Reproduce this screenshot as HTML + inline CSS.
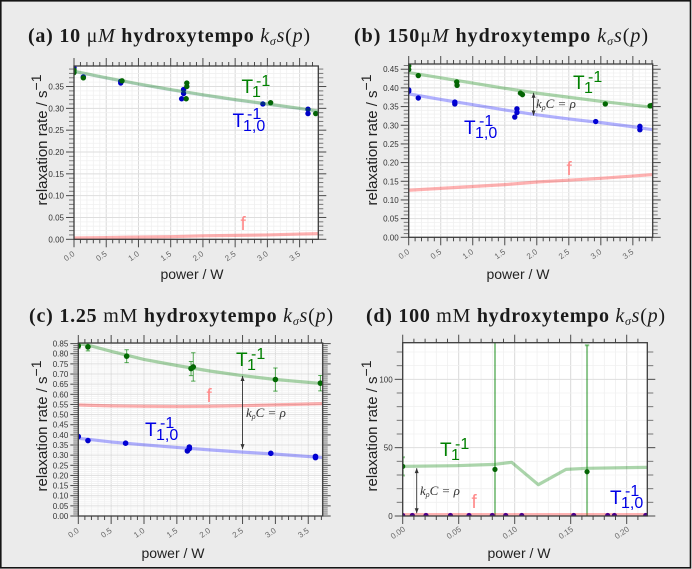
<!DOCTYPE html>
<html lang="en">
<head>
<meta charset="utf-8">
<title>Relaxation rate versus power</title>
<style>
html,body{margin:0;padding:0;background:#fff;width:692px;height:569px;overflow:hidden;}
#chart{display:block;position:absolute;left:0;top:0;overflow:hidden;}
text{font-family:"Liberation Sans",sans-serif;}
.title{font-family:"Liberation Serif",serif;font-size:20px;font-weight:bold;fill:#1a1a1a;}
.rm{font-weight:normal;}
.it{font-weight:normal;font-style:italic;}
.math{font-family:"Liberation Serif",serif;font-style:italic;font-size:13px;fill:#333;}
.axis-title{font-size:15px;fill:#222;}
.x-title{font-size:14px;}
.ytl{font-size:8px;fill:#333;text-anchor:end;}
.xtl{font-size:8px;fill:#666;text-anchor:middle;}
.ann{font-size:19px;}
.annsm{font-size:16px;}
</style>
</head>
<body>
<svg id="chart" xmlns="http://www.w3.org/2000/svg" width="692" height="569" viewBox="0 0 692 569">
  <rect x="0.8" y="0.8" width="689.7" height="567" fill="#ebebeb" stroke="#151515" stroke-width="1.6"/>
  <g id="plots"></g>

  <text class="title" x="28" y="42" textLength="282" xml:space="preserve">(a) 10<tspan class="rm"> μ</tspan><tspan class="it">M</tspan> hydroxytempo <tspan class="it">k</tspan><tspan class="it" font-size="12" dy="3">σ</tspan><tspan class="it" dy="-3">s</tspan><tspan class="rm">(</tspan><tspan class="it">p</tspan><tspan class="rm">)</tspan></text>
  <text class="title" x="354" y="42" textLength="294" xml:space="preserve">(b) 150<tspan class="rm">μ</tspan><tspan class="it">M</tspan> hydroxytempo <tspan class="it">k</tspan><tspan class="it" font-size="12" dy="3">σ</tspan><tspan class="it" dy="-3">s</tspan><tspan class="rm">(</tspan><tspan class="it">p</tspan><tspan class="rm">)</tspan></text>
  <text class="title" x="29" y="322" textLength="304" xml:space="preserve">(c) 1.25<tspan class="rm"> mM</tspan> hydroxytempo <tspan class="it">k</tspan><tspan class="it" font-size="12" dy="3">σ</tspan><tspan class="it" dy="-3">s</tspan><tspan class="rm">(</tspan><tspan class="it">p</tspan><tspan class="rm">)</tspan></text>
  <text class="title" x="366" y="322" textLength="299" xml:space="preserve">(d) 100<tspan class="rm"> mM</tspan> hydroxytempo <tspan class="it">k</tspan><tspan class="it" font-size="12" dy="3">σ</tspan><tspan class="it" dy="-3">s</tspan><tspan class="rm">(</tspan><tspan class="it">p</tspan><tspan class="rm">)</tspan></text>

  <text class="axis-title x-title" x="192" y="279" text-anchor="middle">power / W</text>
  <text class="axis-title x-title" x="518" y="279" text-anchor="middle">power / W</text>
  <text class="axis-title x-title" x="173" y="558" text-anchor="middle">power / W</text>
  <text class="axis-title x-title" x="519" y="558" text-anchor="middle">power / W</text>

  <text class="axis-title" transform="translate(47,140) rotate(-90)" text-anchor="middle">relaxation rate / s<tspan font-size="14" dy="-6">−1</tspan></text>
  <text class="axis-title" transform="translate(377,140) rotate(-90)" text-anchor="middle">relaxation rate / s<tspan font-size="14" dy="-6">−1</tspan></text>
  <text class="axis-title" transform="translate(47,426) rotate(-90)" text-anchor="middle">relaxation rate / s<tspan font-size="14" dy="-6">−1</tspan></text>
  <text class="axis-title" transform="translate(377,426) rotate(-90)" text-anchor="middle">relaxation rate / s<tspan font-size="14" dy="-6">−1</tspan></text>

  <g fill="#008000">
    <g><text class="ann" x="241.5" y="93">T</text><text class="annsm" x="252" y="97">1</text><text class="annsm" x="256" y="86">-1</text></g>
    <g><text class="ann" x="573" y="89">T</text><text class="annsm" x="584" y="93">1</text><text class="annsm" x="588" y="82">-1</text></g>
    <g><text class="ann" x="236" y="366">T</text><text class="annsm" x="247" y="370">1</text><text class="annsm" x="251" y="359">-1</text></g>
    <g><text class="ann" x="440" y="456">T</text><text class="annsm" x="451" y="460">1</text><text class="annsm" x="455" y="449">-1</text></g>
  </g>
  <g fill="#0000e6">
    <g><text class="ann" x="232.5" y="127">T</text><text class="annsm" x="243" y="131">1,0</text><text class="annsm" x="247" y="119">-1</text></g>
    <g><text class="ann" x="464" y="134">T</text><text class="annsm" x="475" y="138">1,0</text><text class="annsm" x="479" y="126">-1</text></g>
    <g><text class="ann" x="145" y="436">T</text><text class="annsm" x="156" y="440">1,0</text><text class="annsm" x="160" y="428">-1</text></g>
    <g><text class="ann" x="610" y="504">T</text><text class="annsm" x="621" y="508">1,0</text><text class="annsm" x="625" y="496">-1</text></g>
  </g>
  <g fill="#ff8a8a">
    <text class="ann" x="240.5" y="230">f</text>
    <text class="ann" x="566.5" y="175">f</text>
    <text class="ann" x="206.5" y="402">f</text>
    <text class="ann" x="471.5" y="508">f</text>
  </g>

  <text class="math" x="536" y="108">k<tspan font-size="8" dy="2">ρ</tspan><tspan dy="-2">C = ρ</tspan></text>
  <text class="math" x="246" y="417">k<tspan font-size="8" dy="2">ρ</tspan><tspan dy="-2">C = ρ</tspan></text>
  <text class="math" x="420" y="495">k<tspan font-size="8" dy="2">ρ</tspan><tspan dy="-2">C = ρ</tspan></text>
</svg>

<script>
// ---- Panel (a) ----
const aXTicks = ['0.0','0.5','1.0','1.5','2.0','2.5','3.0','3.5'];
const aYTicks = ['0.00','0.05','0.10','0.15','0.20','0.25','0.30','0.35'];
const aT1Power = [0,0,0.145,0.745,1.75,1.75,1.74,3.05,3.75];
const aT1Rate = [0.388,0.382,0.370,0.363,0.358,0.350,0.322,0.313,0.288];
const aT10Power = [0,0.145,0.725,0.725,1.70,1.70,1.67,2.93,3.63,3.63];
const aT10Rate = [0.393,0.372,0.358,0.362,0.343,0.334,0.322,0.310,0.298,0.288];
const aFitPower = [0,0.5,1,1.5,2,2.5,3,3.5,3.79];
const aFitT1 = [0.385,0.370,0.356,0.343,0.331,0.320,0.310,0.300,0.294];
const aFitT10 = [0.384,0.369,0.355,0.342,0.330,0.319,0.309,0.299,0.293];
const aFitF = [0.003,0.004,0.005,0.006,0.008,0.009,0.010,0.012,0.013];

// ---- Panel (b) ----
const bXTicks = ['0.0','0.5','1.0','1.5','2.0','2.5','3.0','3.5'];
const bYTicks = ['0.00','0.05','0.10','0.15','0.20','0.25','0.30','0.35','0.40','0.45'];
const bT1Power = [0,0,0.15,0.75,0.755,1.745,1.776,3.07,3.77,3.80];
const bT1Rate = [0.459,0.449,0.433,0.416,0.407,0.386,0.382,0.357,0.352,0.353];
const bT10Power = [0,0,0.15,0.72,0.72,1.69,1.69,1.656,2.92,3.61,3.61];
const bT10Rate = [0.395,0.391,0.373,0.362,0.357,0.344,0.334,0.322,0.310,0.297,0.288];
const bFitPower = [0,0.5,1,1.5,2,2.5,3,3.5,3.81];
const bFitT1 = [0.441,0.427,0.413,0.399,0.386,0.375,0.364,0.354,0.348];
const bFitT10 = [0.384,0.369,0.355,0.341,0.328,0.317,0.307,0.296,0.288];
const bFitF = [0.126,0.131,0.136,0.141,0.148,0.153,0.158,0.164,0.168];

// ---- Panel (c) ----
const cXTicks = ['0.0','0.5','1.0','1.5','2.0','2.5','3.0','3.5'];
const cYTicks = ['0.00','0.05','0.10','0.15','0.20','0.25','0.30','0.35','0.40','0.45','0.50','0.55','0.60','0.65','0.70','0.75','0.80','0.85'];
const cT1Power = [0,0.147,0.736,1.716,1.75,3.0,3.685];
const cT1Rate = [0.839,0.834,0.788,0.727,0.735,0.673,0.655];
const cT1Err = [0.012,0.020,0.032,0.035,0.070,0.057,0.038];
const cT10Power = [0,0.147,0.72,1.69,1.69,1.66,2.93,3.61,3.61];
const cT10Rate = [0.392,0.372,0.359,0.340,0.332,0.321,0.309,0.294,0.288];
const cFitPower = [0,0.15,0.5,1,1.5,2,2.5,3,3.72];
const cFitT1 = [0.850,0.842,0.812,0.772,0.742,0.715,0.692,0.673,0.653];
const cFitT10 = [0.383,0.378,0.365,0.351,0.338,0.326,0.315,0.305,0.288];
const cFitF = [0.548,0.546,0.543,0.541,0.540,0.541,0.544,0.548,0.554];

// ---- Panel (d) ----
const dXTicks = ['0.00','0.05','0.10','0.15','0.20'];
const dYTicks = ['0','50','100'];
const dT1Power = [0,0.0824,0.1646];
const dT1Rate = [36.3,34.1,32.4];
const dT1Err = [6.7,95,92.5];
const dT10Power = [0,0.0086,0.0208,0.0426,0.0592,0.08,0.092,0.1063,0.1527,0.183,0.189,0.217];
const dT10Rate = [0.4,0.4,0.4,0.4,0.4,0.4,0.4,0.4,0.4,0.4,0.4,0.4];
const dFitPower = [0,0.0476,0.0824,0.0973,0.1211,0.1458,0.1646,0.2184];
const dFitT1 = [36.3,36.8,37.8,39.3,22.9,34.1,34.9,35.6];
const dFitT10 = [0.3,0.3,0.3,0.3,0.3,0.3,0.3,0.3];
const dFitF = [1,1,1,1,1,1,1,1];

// Separation arrows: power, lower rate, upper rate
const bArrow = [1.95, 0.326, 0.387];
const cArrow = [2.5, 0.33, 0.69];
const dArrow = [0.0125, 2, 35];

const NS = 'http://www.w3.org/2000/svg';
const root = document.getElementById('plots');

function mk(parent, tag, attrs) {
  const el = document.createElementNS(NS, tag);
  for (const k in attrs) el.setAttribute(k, attrs[k]);
  parent.appendChild(el);
  return el;
}

function drawPanel(p) {
  const sx = v => p.l + v / p.xMax * (p.r - p.l);
  const sy = v => p.b - v / p.yMax * (p.b - p.t);

  const g = mk(root, 'g', {});
  
  

  const bg = mk(g, 'rect', {x: p.l, y: p.t, width: p.r - p.l, height: p.b - p.t, fill: '#fff'});
  
  

  const clipId = 'clip-' + p.id;
  const defs = mk(g, 'defs', {});
  const cp = mk(defs, 'clipPath', {id: clipId});
  mk(cp, 'rect', {x: p.l, y: p.t, width: p.r - p.l, height: p.b - p.t});

  const xVals = [], yVals = [];
  const nx = Math.floor(p.xMax / p.xMinor + 1e-6);
  const ny = Math.floor(p.yMax / p.yMinor + 1e-6);
  for (let i = 0; i <= nx; i++) xVals.push(i * p.xMinor);
  for (let i = 0; i <= ny; i++) yVals.push(i * p.yMinor);
  const isMajor = (v, step) => Math.abs(v / step - Math.round(v / step)) < 1e-6;

  // grid
  const grid = mk(g, 'g', {});
  
  
  xVals.forEach(v => {
    const M = isMajor(v, p.xMajor);
    mk(grid, 'line', {x1: sx(v), x2: sx(v), y1: p.t, y2: p.b, stroke: M ? '#d9d9d9' : '#f0f0f0', 'stroke-width': M ? 1 : 0.8});
  });
  yVals.forEach(v => {
    const M = isMajor(v, p.yMajor);
    mk(grid, 'line', {y1: sy(v), y2: sy(v), x1: p.l, x2: p.r, stroke: M ? '#dedede' : '#f0f0f0', 'stroke-width': M ? 1 : 0.8});
  });

  const data = mk(g, 'g', {'clip-path': 'url(#' + clipId + ')'});
  
  

  // error bars, limited to the axis range
  if (p.t1Err) {
    p.t1Power.forEach((x, i) => {
      const bar = mk(data, 'g', {stroke: '#008000', 'stroke-opacity': p.errOpacity, 'stroke-width': p.errWidth, fill: 'none'});
      
      
      const hi = p.t1Rate[i] + p.t1Err[i];
      const lo = p.t1Rate[i] - p.t1Err[i];
      const top = sy(Math.min(hi, p.yMax));
      const bot = sy(Math.max(lo, 0));
      mk(bar, 'line', {x1: sx(x), x2: sx(x), y1: top, y2: bot});
      if (hi <= p.yMax) mk(bar, 'line', {x1: sx(x) - 2.2, x2: sx(x) + 2.2, y1: top, y2: top});
      if (lo >= 0) mk(bar, 'line', {x1: sx(x) - 2.2, x2: sx(x) + 2.2, y1: bot, y2: bot});
    });
  }

  // points
  p.t10Power.forEach((x, i) => {
    const c = mk(data, 'circle', {cx: sx(x), cy: sy(p.t10Rate[i]), r: p.dot, fill: '#0000c8'});
    
    
  });
  p.t1Power.forEach((x, i) => {
    const c = mk(data, 'circle', {cx: sx(x), cy: sy(p.t1Rate[i]), r: p.dot, fill: '#046404'});
    
    
  });

  // fit lines
  const path = ys => p.fitPower.map((x, i) => sx(x).toFixed(2) + ',' + sy(ys[i]).toFixed(2)).join(' ');
  const lineT10 = mk(data, 'polyline', {points: path(p.fitT10), fill: 'none', stroke: '#0000ff', 'stroke-opacity': p.t10Opacity, 'stroke-width': 3.2, 'stroke-linejoin': 'round'});
  
  
  const lineF = mk(data, 'polyline', {points: path(p.fitF), fill: 'none', stroke: '#ff0000', 'stroke-opacity': 0.3, 'stroke-width': 3.2, 'stroke-linejoin': 'round'});
  
  
  const lineT1 = mk(data, 'polyline', {points: path(p.fitT1), fill: 'none', stroke: '#008000', 'stroke-opacity': 0.33, 'stroke-width': 3.2, 'stroke-linejoin': 'round'});
  
  

  // arrow
  if (p.arrow) {
    const ax = sx(p.arrow[0]), y1 = sy(p.arrow[1]), y2 = sy(p.arrow[2]);
    const a = mk(g, 'g', {stroke: '#333', fill: '#333', 'stroke-width': 0.9});
    
    
    mk(a, 'line', {x1: ax, x2: ax, y1: y1, y2: y2});
    mk(a, 'polygon', {points: `${ax},${y2} ${ax - 2},${y2 + 5} ${ax + 2},${y2 + 5}`, stroke: 'none'});
    mk(a, 'polygon', {points: `${ax},${y1} ${ax - 2},${y1 - 5} ${ax + 2},${y1 - 5}`, stroke: 'none'});
  }

  // ticks
  const ticks = mk(g, 'g', {stroke: '#4a4a4a', 'stroke-width': 1});
  
  
  xVals.forEach(v => {
    const len = isMajor(v, p.xMajor) ? 8 : 4;
    mk(ticks, 'line', {x1: sx(v), x2: sx(v), y1: p.t, y2: p.t - len});
    mk(ticks, 'line', {x1: sx(v), x2: sx(v), y1: p.b, y2: p.b + len});
  });
  yVals.forEach(v => {
    const M = isMajor(v, p.yMajor);
    const len = M ? 8 : p.yMinorLen;
    const col = M ? '#4a4a4a' : '#777';
    mk(ticks, 'line', {y1: sy(v), y2: sy(v), x1: p.l, x2: p.l - len, stroke: col});
    mk(ticks, 'line', {y1: sy(v), y2: sy(v), x1: p.r, x2: p.r + len, stroke: col});
  });

  // frame
  const frame = mk(g, 'rect', {x: p.l, y: p.t, width: p.r - p.l, height: p.b - p.t, fill: 'none', stroke: '#3c3c3c', 'stroke-width': 1.3});
  
  

  // tick labels
  p.xTicks.forEach(label => {
    const x = sx(Number(label)) - 5;
    const y = p.b + 16.5;
    const t = mk(g, 'text', {class: 'xtl', x: x, y: y + 3, transform: `rotate(-35 ${x} ${y})`});
    
    
    t.textContent = label;
  });
  p.yTicks.forEach(label => {
    const t = mk(g, 'text', {class: 'ytl', x: p.l - 10, y: sy(Number(label)) + 3});
    
    
    t.textContent = label;
  });
}

drawPanel({id:'a', l:74, r:318.3, t:66, b:239.3, xMax:3.79, yMax:0.397, xMajor:0.5, xMinor:0.1, yMajor:0.05, yMinor:0.01, yMinorLen:5, dot:2.7, t10Opacity:0.06,
  xTicks:aXTicks, yTicks:aYTicks, t1Power:aT1Power, t1Rate:aT1Rate, t10Power:aT10Power, t10Rate:aT10Rate,
  fitPower:aFitPower, fitT1:aFitT1, fitT10:aFitT10, fitF:aFitF});
drawPanel({id:'b', l:408.7, r:652.7, t:64, b:237.3, xMax:3.81, yMax:0.464, xMajor:0.5, xMinor:0.1, yMajor:0.05, yMinor:0.01, yMinorLen:5, dot:2.7, t10Opacity:0.3,
  xTicks:bXTicks, yTicks:bYTicks, t1Power:bT1Power, t1Rate:bT1Rate, t10Power:bT10Power, t10Rate:bT10Rate,
  fitPower:bFitPower, fitT1:bFitT1, fitT10:bFitT10, fitF:bFitF, arrow:bArrow});
drawPanel({id:'c', l:78.3, r:322.7, t:343, b:516, xMax:3.72, yMax:0.853, xMajor:0.5, xMinor:0.1, yMajor:0.05, yMinor:0.01, yMinorLen:5, dot:2.8, t10Opacity:0.3,
  xTicks:cXTicks, yTicks:cYTicks, t1Power:cT1Power, t1Rate:cT1Rate, t1Err:cT1Err, errOpacity:0.65, errWidth:1, t10Power:cT10Power, t10Rate:cT10Rate,
  fitPower:cFitPower, fitT1:cFitT1, fitT10:cFitT10, fitF:cFitF, arrow:cArrow});
drawPanel({id:'d', l:402.7, r:647.3, t:342.7, b:516, xMax:0.2184, yMax:126.8, xMajor:0.05, xMinor:0.01, yMajor:50, yMinor:10, yMinorLen:6, dot:2.6, t10Opacity:0,
  xTicks:dXTicks, yTicks:dYTicks, t1Power:dT1Power, t1Rate:dT1Rate, t1Err:dT1Err, errOpacity:0.45, errWidth:2, t10Power:dT10Power, t10Rate:dT10Rate,
  fitPower:dFitPower, fitT1:dFitT1, fitT10:dFitT10, fitF:dFitF, arrow:dArrow});
</script>
</body>
</html>
